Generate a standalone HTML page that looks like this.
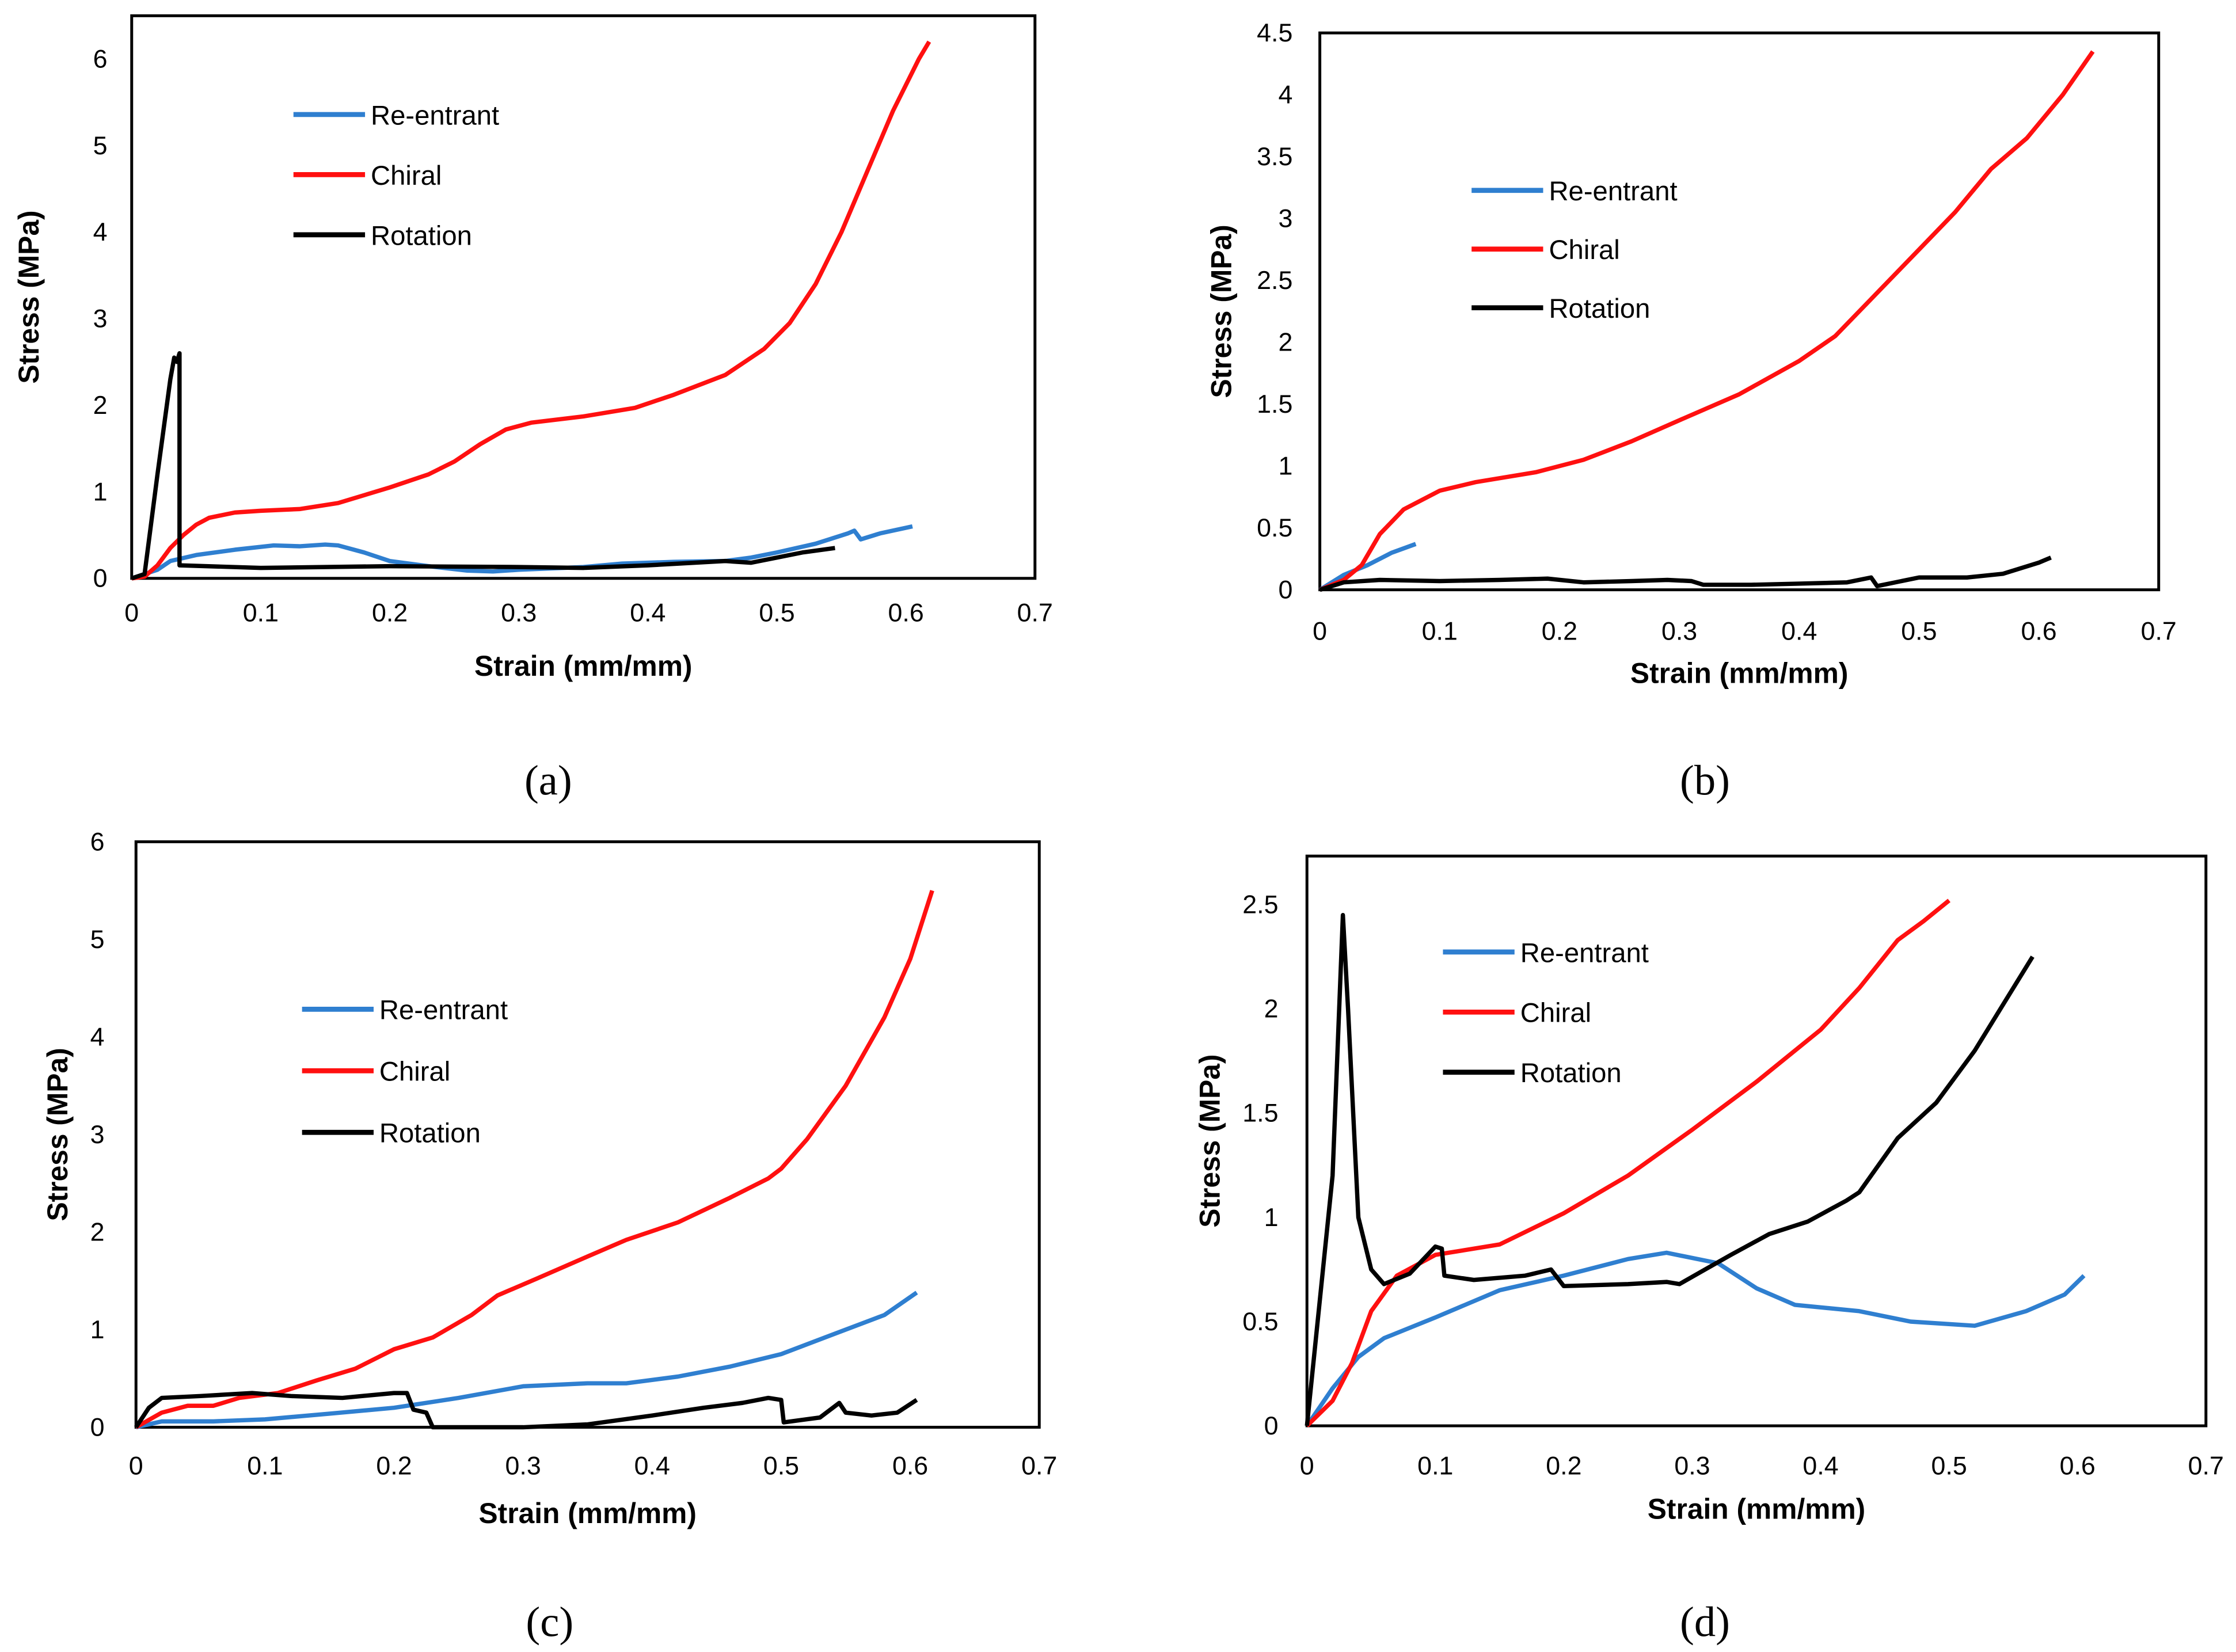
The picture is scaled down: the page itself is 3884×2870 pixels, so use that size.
<!DOCTYPE html>
<html><head><meta charset="utf-8"><style>
html,body{margin:0;padding:0;background:#fff;width:3884px;height:2870px;overflow:hidden}
svg{display:block}
text{font-family:"Liberation Sans",sans-serif}
text.cap{font-family:"Liberation Serif",serif}
</style></head><body>
<svg id="fig" width="3884" height="2870" viewBox="0 0 1562 1154" preserveAspectRatio="none" xmlns="http://www.w3.org/2000/svg"></svg>
<script>
// ---- Data (strain, stress) ----
const xTicks = [0,0.1,0.2,0.3,0.4,0.5,0.6,0.7];
const seriesNames = ["Re-entrant","Chiral","Rotation"];
const colors = ["#2f7fd0","#ff1010","#000000"];

const aReX=[0,0.02,0.03,0.05,0.08,0.11,0.13,0.15,0.16,0.18,0.2,0.23,0.26,0.28,0.3,0.35,0.38,0.42,0.46,0.48,0.5,0.53,0.555,0.56,0.565,0.58,0.605];
const aReY=[0,0.1,0.2,0.27,0.33,0.38,0.37,0.39,0.38,0.3,0.2,0.14,0.09,0.08,0.1,0.13,0.17,0.19,0.2,0.24,0.3,0.4,0.52,0.55,0.45,0.52,0.6];
const aChX=[0,0.01,0.02,0.03,0.04,0.05,0.06,0.08,0.1,0.13,0.16,0.2,0.23,0.25,0.27,0.29,0.31,0.35,0.39,0.42,0.46,0.49,0.51,0.53,0.55,0.57,0.59,0.61,0.618];
const aChY=[0,0.02,0.15,0.35,0.5,0.62,0.7,0.76,0.78,0.8,0.87,1.05,1.2,1.35,1.55,1.72,1.8,1.87,1.97,2.12,2.35,2.65,2.95,3.4,4.0,4.7,5.4,6.0,6.2];
const aRoX=[0,0.01,0.02,0.03,0.033,0.035,0.037,0.037,0.1,0.2,0.3,0.35,0.4,0.46,0.48,0.5,0.52,0.545];
const aRoY=[0,0.05,1.2,2.3,2.55,2.5,2.6,0.15,0.12,0.14,0.13,0.12,0.15,0.2,0.18,0.24,0.3,0.35];

const bReX=[0,0.02,0.04,0.06,0.08];
const bReY=[0,0.12,0.2,0.3,0.37];
const bChX=[0,0.02,0.035,0.05,0.07,0.1,0.13,0.18,0.22,0.26,0.3,0.35,0.4,0.43,0.46,0.5,0.53,0.56,0.59,0.62,0.645];
const bChY=[0,0.08,0.2,0.45,0.65,0.8,0.87,0.95,1.05,1.2,1.37,1.58,1.85,2.05,2.35,2.75,3.05,3.4,3.65,4.0,4.35];
const bRoX=[0,0.02,0.05,0.1,0.15,0.19,0.22,0.26,0.29,0.31,0.32,0.36,0.4,0.44,0.46,0.465,0.5,0.54,0.57,0.6,0.61];
const bRoY=[0,0.06,0.08,0.07,0.08,0.09,0.06,0.07,0.08,0.07,0.04,0.04,0.05,0.06,0.1,0.03,0.1,0.1,0.13,0.22,0.26];

const cReX=[0,0.02,0.06,0.1,0.15,0.2,0.25,0.3,0.35,0.38,0.42,0.46,0.5,0.54,0.58,0.605];
const cReY=[0,0.06,0.06,0.08,0.14,0.2,0.3,0.42,0.45,0.45,0.52,0.62,0.75,0.95,1.15,1.38];
const cChX=[0,0.02,0.04,0.06,0.08,0.11,0.14,0.17,0.2,0.23,0.26,0.28,0.31,0.35,0.38,0.42,0.46,0.49,0.5,0.52,0.55,0.58,0.6,0.617];
const cChY=[0,0.15,0.22,0.22,0.3,0.35,0.48,0.6,0.8,0.92,1.15,1.35,1.52,1.75,1.92,2.1,2.35,2.55,2.65,2.95,3.5,4.2,4.8,5.5];
const cRoX=[0,0.01,0.02,0.05,0.09,0.12,0.16,0.2,0.21,0.215,0.225,0.23,0.3,0.35,0.4,0.44,0.47,0.49,0.5,0.502,0.53,0.545,0.55,0.57,0.59,0.605];
const cRoY=[0,0.2,0.3,0.32,0.35,0.32,0.3,0.35,0.35,0.18,0.15,0,0,0.03,0.12,0.2,0.25,0.3,0.28,0.05,0.1,0.25,0.15,0.12,0.15,0.28];

const dReX=[0,0.02,0.04,0.06,0.1,0.15,0.2,0.25,0.28,0.32,0.35,0.38,0.43,0.47,0.52,0.56,0.59,0.605];
const dReY=[0,0.18,0.33,0.42,0.52,0.65,0.72,0.8,0.83,0.78,0.66,0.58,0.55,0.5,0.48,0.55,0.63,0.72];
const dChX=[0,0.02,0.035,0.05,0.07,0.1,0.15,0.2,0.25,0.3,0.35,0.4,0.43,0.46,0.48,0.5];
const dChY=[0,0.12,0.3,0.55,0.72,0.82,0.87,1.02,1.2,1.42,1.65,1.9,2.1,2.33,2.42,2.52];
const dRoX=[0,0.02,0.028,0.032,0.04,0.05,0.06,0.08,0.1,0.105,0.107,0.13,0.17,0.19,0.2,0.25,0.28,0.29,0.31,0.33,0.36,0.39,0.42,0.43,0.46,0.49,0.52,0.545,0.565];
const dRoY=[0,1.2,2.45,2.0,1.0,0.75,0.68,0.73,0.86,0.85,0.72,0.7,0.72,0.75,0.67,0.68,0.69,0.68,0.75,0.82,0.92,0.98,1.08,1.12,1.38,1.55,1.8,2.05,2.25];

const aYTicks=[0,1,2,3,4,5,6];
const bYTicks=[0,0.5,1,1.5,2,2.5,3,3.5,4,4.5];
const cYTicks=[0,1,2,3,4,5,6];
const dYTicks=[0,0.5,1,1.5,2,2.5];

const panels=[
 {id:"a",L:92,R:723,T:11,B:404,ymax:6.5,yt:aYTicks,ylabX:70,anchor:"middle",tickY:434,titleY:472,yTitleX:20,cap:[383,545],leg:[205,80,42],
  s:[[aReX,aReY],[aChX,aChY],[aRoX,aRoY]]},
 {id:"b",L:922,R:1508,T:23,B:412,ymax:4.5,yt:bYTicks,ylabX:903,anchor:"end",tickY:447,titleY:477,yTitleX:853,cap:[1191,545],leg:[1028,133,41],
  s:[[bReX,bReY],[bChX,bChY],[bRoX,bRoY]]},
 {id:"c",L:95,R:726,T:588,B:997,ymax:6,yt:cYTicks,ylabX:68,anchor:"middle",tickY:1030,titleY:1064,yTitleX:40,cap:[384,1133],leg:[211,705,43],
  s:[[cReX,cReY],[cChX,cChY],[cRoX,cRoY]]},
 {id:"d",L:913,R:1541,T:598,B:996,ymax:2.733,yt:dYTicks,ylabX:893,anchor:"end",tickY:1030,titleY:1061,yTitleX:845,cap:[1191,1133],leg:[1008,665,42],
  s:[[dReX,dReY],[dChX,dChY],[dRoX,dRoY]]}
];
const NS="http://www.w3.org/2000/svg";
const svg=document.getElementById("fig");
function mk(tag,attrs,parent){const e=document.createElementNS(NS,tag);for(const k in attrs)e.setAttribute(k,attrs[k]);(parent||svg).appendChild(e);return e;}

panels.forEach(p=>{
  const g=mk("g",{});
  
  
  const xs=v=>p.L+(v/0.7)*(p.R-p.L);
  const ys=v=>p.B-(v/p.ymax)*(p.B-p.T);
  const fr=mk("rect",{x:p.L,y:p.T,width:p.R-p.L,height:p.B-p.T,fill:"none",stroke:"#000","stroke-width":2},g);
  
  
  xTicks.forEach(t=>{
    const tx=mk("text",{x:xs(t),y:p.tickY,"font-size":18,"text-anchor":"middle"},g);
    tx.textContent=String(t);
    
    
  });
  p.yt.forEach(t=>{
    const tx=mk("text",{x:p.ylabX,y:ys(t)+6,"font-size":18,"text-anchor":p.anchor},g);
    tx.textContent=String(t);
    
    
  });
  const xt=mk("text",{x:(p.L+p.R)/2,y:p.titleY,"font-size":20,"font-weight":"bold","text-anchor":"middle"},g);
  xt.textContent="Strain (mm/mm)";
  
  
  const cy=(p.T+p.B)/2;
  const yt=mk("text",{x:p.yTitleX,y:cy,"font-size":20,"font-weight":"bold","text-anchor":"middle",transform:`rotate(-90 ${p.yTitleX} ${cy})`,dy:7},g);
  yt.textContent="Stress (MPa)";
  
  
  const cap=mk("text",{x:p.cap[0],y:p.cap[1]+10,"font-size":30,"text-anchor":"middle","class":"cap"},g);
  cap.textContent="("+p.id+")";
  
  
  p.s.forEach((s,i)=>{
    const d=s[0].map((x,j)=>(j?"L":"M")+xs(x).toFixed(1)+","+ys(s[1][j]).toFixed(1)).join(" ");
    const path=mk("path",{d:d,fill:"none",stroke:colors[i],"stroke-width":3,"stroke-linejoin":"round"},g);
    
    
    const ly=p.leg[1]+i*p.leg[2];
    const ll=mk("line",{x1:p.leg[0],x2:p.leg[0]+50,y1:ly,y2:ly,stroke:colors[i],"stroke-width":3.5},g);
    
    
    const lt=mk("text",{x:p.leg[0]+54,y:ly+7,"font-size":19},g);
    lt.textContent=seriesNames[i];
    
    
  });
});
</script>
</body></html>
